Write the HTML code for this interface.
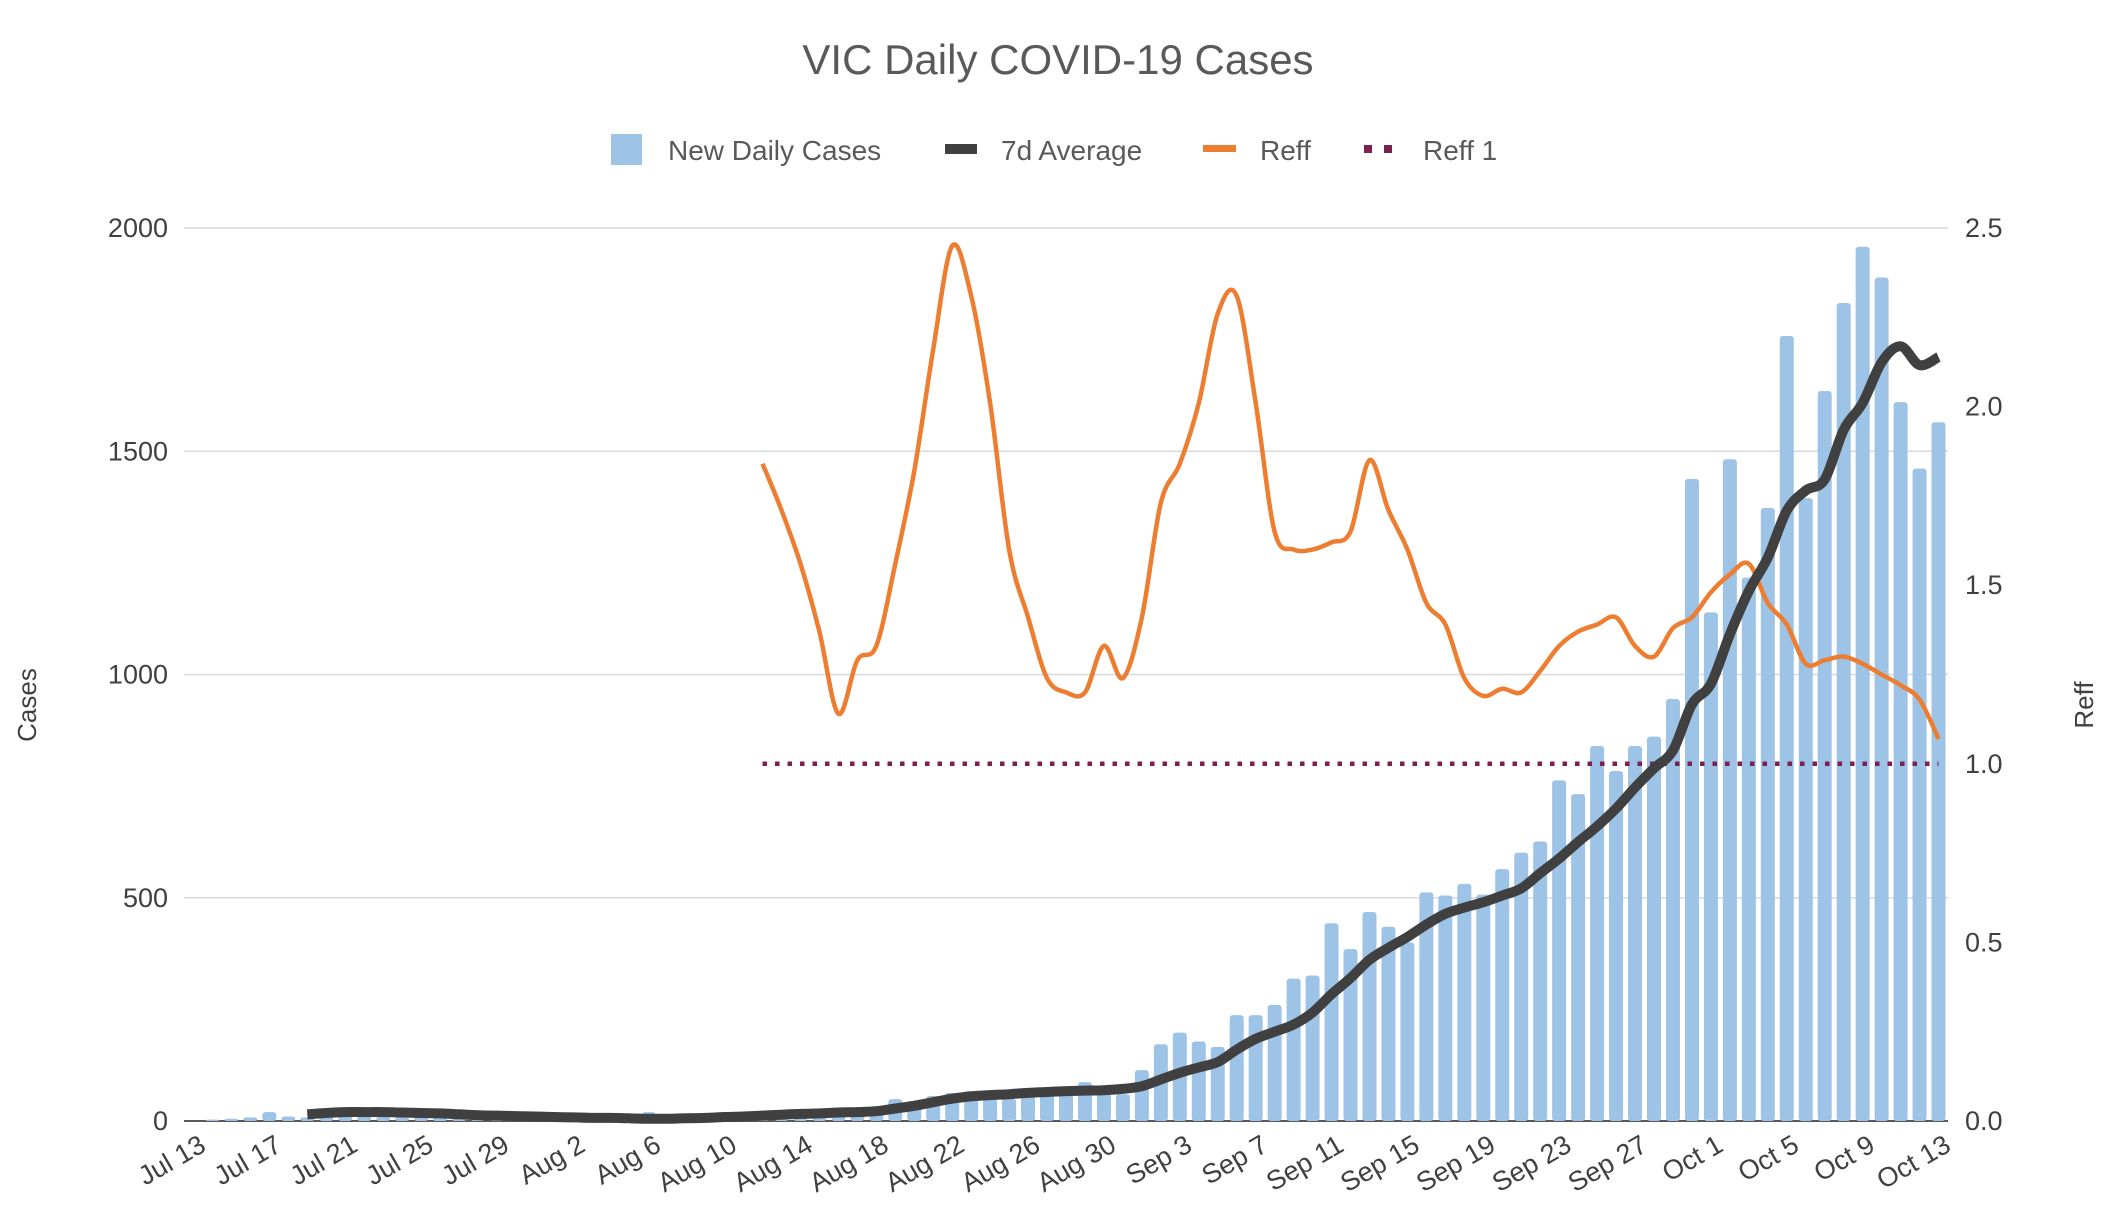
<!DOCTYPE html>
<html><head><meta charset="utf-8"><style>
html,body{margin:0;padding:0;background:#fff;}
svg text{font-family:"Liberation Sans","DejaVu Sans",sans-serif;}
</style></head><body>
<svg id="chart" width="2107" height="1217" viewBox="0 0 2107 1217" xmlns="http://www.w3.org/2000/svg">
<rect width="2107" height="1217" fill="#fff"/>
<text x="1058" y="74" text-anchor="middle" font-size="42" fill="#595959">VIC Daily COVID-19 Cases</text>
<g>
 <g><rect x="611" y="134" width="31" height="31" fill="#9dc3e6"/><text x="668" y="160" font-size="28" fill="#595959">New Daily Cases</text></g>
 <g><rect x="945" y="144" width="32" height="10" fill="#404040"/><text x="1001" y="160" font-size="28" fill="#595959">7d Average</text></g>
 <g><rect x="1203" y="145" width="33" height="7" fill="#ed7d31"/><text x="1260" y="160" font-size="28" fill="#595959">Reff</text></g>
 <g><rect x="1364" y="145" width="8" height="8" fill="#7b2150"/><rect x="1384" y="145" width="8" height="8" fill="#7b2150"/><text x="1423" y="160" font-size="28" fill="#595959">Reff 1</text></g>
</g>
<text transform="translate(36,705) rotate(-90)" text-anchor="middle" font-size="26" fill="#404040">Cases</text>
<text transform="translate(2093,705) rotate(-90)" text-anchor="middle" font-size="26" fill="#404040">Reff</text>
<g id="grid"></g><g id="bars"></g><g id="lines"></g><g id="axes"></g>
</svg>
<script>
const dates=[];(function(){const m=[["Jul",13,31],["Aug",1,31],["Sep",1,30],["Oct",1,13]];for(const [n,a,b] of m)for(let d=a;d<=b;d++)dates.push(n+" "+d);})();
const casesTicks=[0,500,1000,1500,2000];
const reffTicks=["0.0","0.5","1.0","1.5","2.0","2.5"];
const newCases=[0,3,5,8,20,10,8,10,12,10,9,8,10,8,7,9,8,7,6,8,7,6,5,8,20,10,8,12,10,14,15,18,16,17,20,22,25,49,45,56,63,67,55,50,72,65,60,87,70,60,114,172,198,178,166,237,237,260,319,326,443,385,468,435,400,512,505,531,507,564,601,626,763,732,840,784,840,861,945,1438,1139,1482,1217,1373,1758,1395,1635,1832,1958,1889,1610,1461,1565];
const avg7=[null,null,null,null,null,null,15,18,20,20,20,19,18,17,15,13,12,11,10,9,8,7,7,6,5,5,6,7,9,10,12,14,16,17,19,20,22,28,34,42,50,55,58,60,63,65,67,68,69,72,78,93,108,120,132,160,184,200,216,243,284,320,361,388,412,440,464,478,490,505,521,555,588,625,660,700,747,790,830,933,979,1090,1187,1262,1367,1412,1437,1548,1608,1699,1735,1693,1711];
const reff=[null,null,null,null,null,null,null,null,null,null,null,null,null,null,null,null,null,null,null,null,null,null,null,null,null,null,null,null,null,null,1.84,1.71,1.56,1.37,1.14,1.29,1.33,1.56,1.82,2.16,2.45,2.31,2.01,1.60,1.41,1.24,1.20,1.20,1.33,1.24,1.41,1.73,1.84,2.01,2.26,2.31,2.01,1.65,1.60,1.60,1.62,1.65,1.85,1.71,1.60,1.45,1.39,1.24,1.19,1.21,1.20,1.26,1.33,1.37,1.39,1.41,1.33,1.30,1.38,1.41,1.48,1.53,1.56,1.45,1.39,1.28,1.29,1.30,1.28,1.25,1.22,1.18,1.07];
const reffOneStart=30;
const reffOneValue=1.0;

const NS="http://www.w3.org/2000/svg";
const L=184,R=1948,T=228,B=1121;
const n=dates.length, step=(R-L)/n;
const xC=i=>L+(i+0.5)*step;
const yC=v=>B-(v/2000)*(B-T);
const yR=v=>B-(v/2.5)*(B-T);
function mk(tag,attrs,parent){const e=document.createElementNS(NS,tag);for(const k in attrs)e.setAttribute(k,attrs[k]);document.getElementById(parent).appendChild(e);return e;}

casesTicks.forEach(v=>{
 const g=mk("line",{x1:L,x2:R,y1:yC(v),y2:yC(v),stroke:v===0?"#595959":"#d9d9d9","stroke-width":v===0?2:1.5},"grid");
 
 
 const t=mk("text",{x:168,y:yC(v)+9,"text-anchor":"end","font-size":27,fill:"#404040"},"axes");
 t.textContent=v;
 
 
});
reffTicks.forEach(s=>{
 const t=mk("text",{x:1965,y:yR(parseFloat(s))+9,"font-size":27,fill:"#404040"},"axes");
 t.textContent=s;
 
 
});
newCases.forEach((v,i)=>{
 const h=B-yC(v);
 const r=mk("rect",{x:xC(i)-7,y:yC(v),width:14,height:Math.max(h,0),fill:"#9dc3e6",rx:3},"bars");
 
 
});
function smooth(vals,yf){
 const pts=[];vals.forEach((v,i)=>{if(v!==null)pts.push([xC(i),yf(v)]);});
 let d="M"+pts[0][0]+","+pts[0][1];
 for(let i=0;i<pts.length-1;i++){
  const p0=pts[Math.max(i-1,0)],p1=pts[i],p2=pts[i+1],p3=pts[Math.min(i+2,pts.length-1)];
  const c1=[p1[0]+(p2[0]-p0[0])/6,p1[1]+(p2[1]-p0[1])/6],c2=[p2[0]-(p3[0]-p1[0])/6,p2[1]-(p3[1]-p1[1])/6];
  d+=" C"+c1[0].toFixed(1)+","+c1[1].toFixed(1)+" "+c2[0].toFixed(1)+","+c2[1].toFixed(1)+" "+p2[0].toFixed(1)+","+p2[1].toFixed(1);
 }
 return d;
}
const r1=mk("line",{x1:xC(reffOneStart),x2:xC(n-1),y1:yR(reffOneValue),y2:yR(reffOneValue),stroke:"#7b2150","stroke-width":4.5,"stroke-dasharray":"4.5 8"},"lines");


const rl=mk("path",{d:smooth(reff,yR),fill:"none",stroke:"#ed7d31","stroke-width":4.5,"stroke-linejoin":"round"},"lines");


const al=mk("path",{d:smooth(avg7,yC),fill:"none",stroke:"#404040","stroke-width":10,"stroke-linejoin":"round","stroke-linecap":"butt"},"lines");


for(let i=0;i<n;i+=4){
 const t=mk("text",{transform:"translate("+(xC(i)+14)+",1150) rotate(-30)","text-anchor":"end","font-size":27,fill:"#404040"},"axes");
 t.textContent=dates[i];
 
 
}
</script>
</body></html>
